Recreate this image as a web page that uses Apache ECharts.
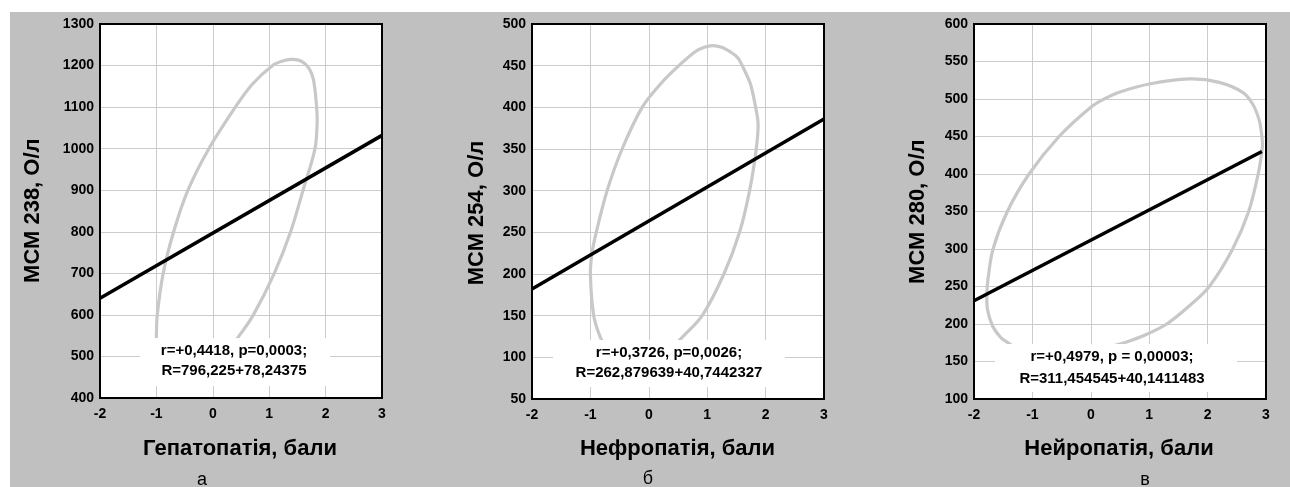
<!DOCTYPE html>
<html><head><meta charset="utf-8">
<script src="https://cdn.jsdelivr.net/npm/echarts@6/dist/echarts.min.js"></script>
<style>
html,body{margin:0;padding:0;background:#fff;width:1290px;height:487px;overflow:hidden}
#c{position:absolute;left:10px;top:12px;width:1280px;height:475px;background:#c0c0c0}
</style>
</head><body><div id="c"></div>
<script>
// ---- data ----
const xRange = [-2, 3, 1];
const yRange1 = [400, 1300, 100];
const yRange2 = [50, 500, 50];
const yRange3 = [100, 600, 50];
const xTitles = ['Гепатопатія, бали', 'Нефропатія, бали', 'Нейропатія, бали'];
const yTitles = ['МСМ 238, О/л', 'МСМ 254, О/л', 'МСМ 280, О/л'];
const panelLetters = ['а', 'б', 'в'];
const statsLine1 = ['r=+0,4418, p=0,0003;', 'r=+0,3726, p=0,0026;', 'r=+0,4979, p = 0,00003;'];
const statsLine2 = ['R=796,225+78,24375', 'R=262,879639+40,7442327', 'R=311,454545+40,1411483'];

const regression1 = [[-2, 640], [3, 1032]];
const regression2 = [[-2, 182], [3, 386]];
const regression3 = [[-2, 231], [2.93, 430]];

const ellipse1 = [[-1.0,525],[-1.0,552],[-0.985,600],[-0.88,700],[-0.694,800],[-0.441,900],[-0.07,1000],[0.40,1100],[0.70,1155],[1.06,1200],[1.24,1211],[1.38,1215],[1.52,1213],[1.63,1205],[1.72,1190],[1.785,1166],[1.835,1110],[1.85,1065],[1.812,1000],[1.60,900],[1.38,800],[1.09,700],[0.72,600],[0.48,552],[0.35,530]];
const ellipse2 = [[-0.72,110],[-0.83,124],[-0.943,150],[-1.0,200],[-0.97,226],[-0.9,250],[-0.714,300],[-0.457,350],[-0.114,400],[0.2,428],[0.514,450],[0.8,467],[0.95,472],[1.086,474],[1.25,472],[1.45,464],[1.53,459],[1.6,450],[1.74,428],[1.829,400],[1.871,380],[1.84,350],[1.726,300],[1.554,250],[1.286,200],[0.914,150],[0.571,124],[0.41,112]];
const ellipse3 = [[-1.33,170],[-1.43,175.6],[-1.543,182],[-1.686,198],[-1.77,220],[-1.78,240],[-1.76,260],[-1.674,300],[-1.429,350],[-1.057,400],[-0.543,450],[0.0,489],[0.229,500],[0.486,509],[1.0,520],[1.686,526.7],[2.2,522.2],[2.6,508.9],[2.771,493.3],[2.886,471.1],[2.931,448.9],[2.94,438],[2.92,425],[2.866,400],[2.703,350],[2.429,300],[2.029,250],[1.7,225],[1.30,200],[0.95,186],[0.6,175.6],[0.35,170]];

// ---- layout ----
const FONT = '"Liberation Sans", Arial, sans-serif';
const grids = [
  {left: 90, top: 12, width: 282, height: 374},
  {left: 522, top: 12, width: 292, height: 375},
  {left: 964, top: 12, width: 292, height: 375}
];
const boxes = [
  {x: 130, y: 326, w: 190, h: 48, cx: 224, l1: 338.7, l2: 358.7},
  {x: 543, y: 328, w: 232, h: 47, cx: 659, l1: 340.7, l2: 361.3},
  {x: 985, y: 332, w: 242, h: 48, cx: 1102, l1: 345.3, l2: 367}
];
const yTitlePos = [[23, 198.7], [466.7, 201], [908.3, 199.7]];
const xTitlePos = [[230, 437], [667.5, 437], [1109, 437]];
const letterPos = [[192, 468], [638, 467], [1135, 468]];
const yRanges = [yRange1, yRange2, yRange3];
const regressions = [regression1, regression2, regression3];
const ellipses = [ellipse1, ellipse2, ellipse3];

// smooth path through the read points (pixel positions come from the axes via api.coord)
function smoothPath(pts) {
  const n = pts.length;
  const d = [];
  for (let i = 0; i < n - 1; i++) d.push(Math.hypot(pts[i + 1][0] - pts[i][0], pts[i + 1][1] - pts[i][1]) || 1e-6);
  const tan = pts.map((p, i) => {
    const a = pts[Math.max(0, i - 1)], b = pts[Math.min(n - 1, i + 1)];
    const len = (i > 0 ? d[i - 1] : 0) + (i < n - 1 ? d[i] : 0);
    return [(b[0] - a[0]) / len, (b[1] - a[1]) / len];
  });
  let s = 'M' + pts[0][0].toFixed(2) + ' ' + pts[0][1].toFixed(2);
  for (let i = 0; i < n - 1; i++) {
    const k = d[i] / 3;
    const c1 = [pts[i][0] + tan[i][0] * k, pts[i][1] + tan[i][1] * k];
    const c2 = [pts[i + 1][0] - tan[i + 1][0] * k, pts[i + 1][1] - tan[i + 1][1] * k];
    s += ' C' + c1[0].toFixed(2) + ' ' + c1[1].toFixed(2) + ' ' + c2[0].toFixed(2) + ' ' + c2[1].toFixed(2) + ' ' + pts[i + 1][0].toFixed(2) + ' ' + pts[i + 1][1].toFixed(2);
  }
  return s;
}

const labelStyle = {color: '#000', fontFamily: FONT, fontWeight: 'bold', fontSize: 14, formatter: v => String(v)};
const splitStyle = {show: true, lineStyle: {color: '#cccccc', width: 1}};

const option = {
  animation: false,
  backgroundColor: 'transparent',
  grid: grids.map(g => Object.assign({show: true, backgroundColor: '#fff', borderWidth: 0, containLabel: false}, g)),
  xAxis: grids.map((g, i) => ({
    type: 'value', gridIndex: i, min: xRange[0], max: xRange[1], interval: xRange[2],
    axisLine: {show: false}, axisTick: {show: false},
    axisLabel: Object.assign({margin: 9}, labelStyle),
    splitLine: splitStyle
  })),
  yAxis: grids.map((g, i) => ({
    type: 'value', gridIndex: i, min: yRanges[i][0], max: yRanges[i][1], interval: yRanges[i][2],
    axisLine: {show: false}, axisTick: {show: false},
    axisLabel: Object.assign({margin: 6}, labelStyle),
    splitLine: splitStyle
  })),
  series: [].concat(
    ellipses.map((d, i) => ({
      type: 'custom', xAxisIndex: i, yAxisIndex: i, data: d, z: 3, clip: true,
      encode: {x: 0, y: 1},
      renderItem: function (params, api) {
        if (params.dataIndex !== 0) return null;
        const pts = d.map(p => api.coord(p));
        const cs = params.coordSys;
        return {
          type: 'group',
          clipPath: {type: 'rect', shape: {x: cs.x, y: cs.y, width: cs.width, height: cs.height}},
          children: [{
            type: 'path',
            shape: {pathData: smoothPath(pts)},
            style: {fill: 'none', stroke: '#c8c8c8', lineWidth: 3.2}
          }]
        };
      }
    })),
    regressions.map((d, i) => ({
      type: 'line', xAxisIndex: i, yAxisIndex: i, data: d,
      showSymbol: false, symbol: 'none', clip: true, z: 4,
      lineStyle: {color: '#000', width: 3.5}
    }))
  ),
  graphic: [].concat(
    boxes.map(b => ({type: 'rect', z: 20, shape: {x: b.x, y: b.y, width: b.w, height: b.h}, style: {fill: '#fff'}})),
    boxes.map((b, i) => ({type: 'text', z: 21, x: b.cx, y: b.l1, style: {text: statsLine1[i], font: 'bold 15px ' + FONT, fill: '#000', align: 'center', verticalAlign: 'middle'}})),
    boxes.map((b, i) => ({type: 'text', z: 21, x: b.cx, y: b.l2, style: {text: statsLine2[i], font: 'bold 15px ' + FONT, fill: '#000', align: 'center', verticalAlign: 'middle'}})),
    grids.map(g => ({type: 'rect', z: 30, shape: {x: g.left, y: g.top, width: g.width, height: g.height}, style: {fill: 'none', stroke: '#000', lineWidth: 2}})),
    yTitlePos.map((p, i) => ({type: 'text', z: 21, x: p[0], y: p[1], rotation: Math.PI / 2, style: {text: yTitles[i], font: 'bold 22px ' + FONT, fill: '#000', align: 'center', verticalAlign: 'middle'}})),
    xTitlePos.map((p, i) => ({type: 'text', z: 21, x: p[0], y: p[1], style: {text: xTitles[i], font: 'bold 22px ' + FONT, fill: '#000', align: 'center', verticalAlign: 'middle'}})),
    letterPos.map((p, i) => ({type: 'text', z: 21, x: p[0], y: p[1], style: {text: panelLetters[i], font: '18px ' + FONT, fill: '#000', align: 'center', verticalAlign: 'middle'}}))
  )
};
const chart = echarts.init(document.getElementById('c'), null, {renderer: 'canvas'});
chart.setOption(option);
</script>
</body></html>
